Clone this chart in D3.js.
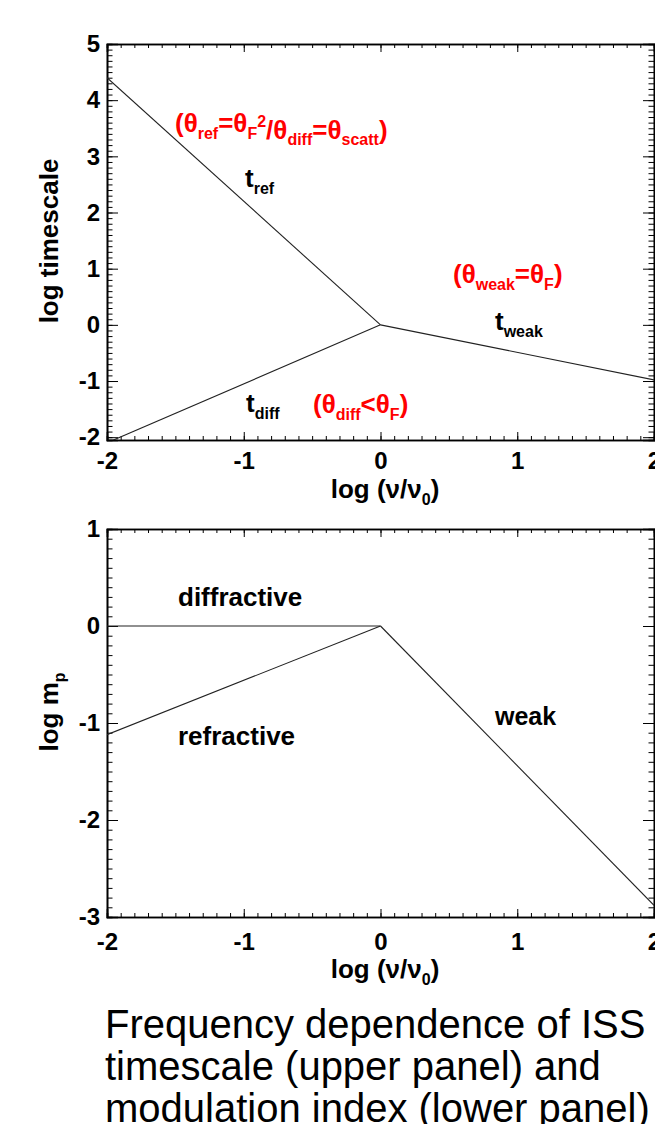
<!DOCTYPE html>
<html>
<head>
<meta charset="utf-8">
<title>ISS timescale and modulation index</title>
<script src="https://d3js.org/d3.v7.min.js"></script>
<style>
  body { margin: 0; background: #fff; }
  svg { display: block; font-family: "Liberation Sans", Arial, sans-serif; }
  .tick text { font-weight: bold; font-size: 24px; fill: #000; }
  .tick line { stroke: #000; stroke-width: 1; }
  .lbl { font-weight: bold; }
  .red { fill: #ff0000; }
</style>
</head>
<body>
<svg id="chart" width="655" height="1124"></svg>
<script>
// ---- data ----
const xTicks = [-2, -1, 0, 1, 2];
const topYTicks = [-2, -1, 0, 1, 2, 3, 4, 5];
const botYTicks = [-3, -2, -1, 0, 1];

const nuLow = [-2, 0];      // log(nu/nu0) for the low-frequency branches
const nuHigh = [0, 2];     // log(nu/nu0) for the weak branch

const tRef = [4.4, 0];
const tDiff = [-2.1, 0];
const tWeak = [0, -0.98];

const mDiffr = [0, 0];
const mRefr = [-1.12, 0];
const mWeak = [0, -2.88];

const caption = [
  "Frequency dependence of ISS",
  "timescale (upper panel) and",
  "modulation index (lower panel)"
];

const svg = d3.select("#chart");
const left = 107, right = 654;

var x = d3.scaleLinear().domain([-2, 2]).range([left, right]);
var minorX = d3.range(-20, 21).map(d => d / 10);

function panel(id, yDomain, yRange, yTicks, series, xPad) {
  var y = d3.scaleLinear().domain(yDomain).range(yRange);
  var top = yRange[1], bottom = yRange[0];
  var g = svg.append("g").attr("class", "frame");
  var minorY = d3.range(Math.round(yDomain[0] * 10), Math.round(yDomain[1] * 10) + 1).map(d => d / 10);

  // minor ticks on all four sides
  g.append("g").attr("transform", "translate(0," + bottom + ")")
    .call(d3.axisBottom(x).tickValues(minorX).tickSize(-4).tickFormat(""));
  g.append("g").attr("transform", "translate(0," + top + ")")
    .call(d3.axisTop(x).tickValues(minorX).tickSize(-4).tickFormat(""));
  g.append("g").attr("transform", "translate(" + left + ",0)")
    .call(d3.axisLeft(y).tickValues(minorY).tickSize(-5.5).tickFormat(""));
  g.append("g").attr("transform", "translate(" + right + ",0)")
    .call(d3.axisRight(y).tickValues(minorY).tickSize(-5.5).tickFormat(""));

  // major ticks + labels
  g.append("g").attr("transform", "translate(0," + bottom + ")")
    .call(d3.axisBottom(x).tickValues(xTicks).tickSize(-8).tickPadding(xPad).tickFormat(d3.format("d")));
  g.append("g").attr("transform", "translate(0," + top + ")")
    .call(d3.axisTop(x).tickValues(xTicks).tickSize(-8).tickFormat(""));
  g.append("g").attr("transform", "translate(" + left + ",0)")
    .call(d3.axisLeft(y).tickValues(yTicks).tickSize(-11).tickPadding(7).tickFormat(d3.format("d")));
  g.append("g").attr("transform", "translate(" + right + ",0)")
    .call(d3.axisRight(y).tickValues(yTicks).tickSize(-11).tickFormat(""));

  g.selectAll(".domain").attr("stroke", "#000").attr("stroke-width", 1.6);
  g.selectAll(".tick text").text(function () { return this.textContent.replace("−", "-"); });

  svg.append("clipPath").attr("id", id)
    .append("rect").attr("x", left).attr("y", top)
    .attr("width", right - left).attr("height", bottom - top);

  var line = d3.line().x(d => x(d[0])).y(d => y(d[1]));
  series.forEach(function (s) {
    svg.append("path")
      .datum(d3.zip(s.nu, s.v))
      .attr("d", line)
      .attr("clip-path", "url(#" + id + ")")
      .attr("fill", "none")
      .attr("stroke", "#222")
      .attr("stroke-width", 1.1);
  });
  return y;
}

var yTop = panel("clipTop", [-2.05, 5], [440, 44], topYTicks, [
  { nu: nuLow, v: tRef },
  { nu: nuLow, v: tDiff },
  { nu: nuHigh, v: tWeak }
], 12);

var yBot = panel("clipBot", [-3, 1], [917, 529], botYTicks, [
  { nu: nuLow, v: mDiffr },
  { nu: nuLow, v: mRefr },
  { nu: nuHigh, v: mWeak }
], 16);

// text with sub/superscripts: parts = [text, kind]
function rich(px, py, parts, size, cls) {
  var t = svg.append("text").attr("x", px).attr("y", py)
    .attr("class", "lbl " + (cls || "")).style("font-size", size + "px");
  parts.forEach(function (p) {
    var sp = t.append("tspan").text(p[0]);
    if (p[1] === "sub") sp.style("font-size", Math.round(size * 0.6) + "px").attr("dy", size * 0.25);
    if (p[1] === "sup") sp.style("font-size", Math.round(size * 0.6) + "px").attr("dy", -size * 0.45);
    if (p[1] === "back-sub") sp.attr("dy", -size * 0.25);
    if (p[1] === "back-sup") sp.attr("dy", size * 0.45);
  });
  return t;
}

// axis titles
rich(385, 498, [["log (ν/ν"], ["0", "sub"], [")", "back-sub"]], 26).attr("text-anchor", "middle");
rich(385, 978, [["log (ν/ν"], ["0", "sub"], [")", "back-sub"]], 26).attr("text-anchor", "middle");

svg.append("text").attr("class", "lbl").style("font-size", "26px")
  .attr("transform", "translate(58,241) rotate(-90)")
  .attr("text-anchor", "middle").text("log timescale");
rich(0, 0, [["log m"], ["p", "sub"]], 26).attr("text-anchor", "middle")
  .attr("transform", "translate(58,712) rotate(-90)");

// upper panel annotations
rich(175, 132, [["(θ"], ["ref", "sub"], ["=θ", "back-sub"], ["F", "sub"], ["2", "sup"],
  ["/θ", "back-sup"], ["diff", "sub"], ["=θ", "back-sub"], ["scatt", "sub"], [")", "back-sub"]], 26, "red");
rich(245, 187, [["t"], ["ref", "sub"]], 26);
rich(453, 283, [["(θ"], ["weak", "sub"], ["=θ", "back-sub"], ["F", "sub"], [")", "back-sub"]], 26, "red");
rich(495, 330, [["t"], ["weak", "sub"]], 26);
rich(246, 412, [["t"], ["diff", "sub"]], 26);
rich(313, 413, [["(θ"], ["diff", "sub"], ["<θ", "back-sub"], ["F", "sub"], [")", "back-sub"]], 26, "red");

// lower panel annotations
rich(178, 606, [["diffractive"]], 26);
rich(178, 745, [["refractive"]], 26);
rich(495, 725, [["weak"]], 25);

// caption
svg.append("g").selectAll("text").data(caption).join("text")
  .attr("x", 105)
  .attr("y", (d, i) => 1038 + i * 42)
  .style("font-size", "40px")
  .attr("fill", "#000")
  .text(d => d);
</script>
</body>
</html>
